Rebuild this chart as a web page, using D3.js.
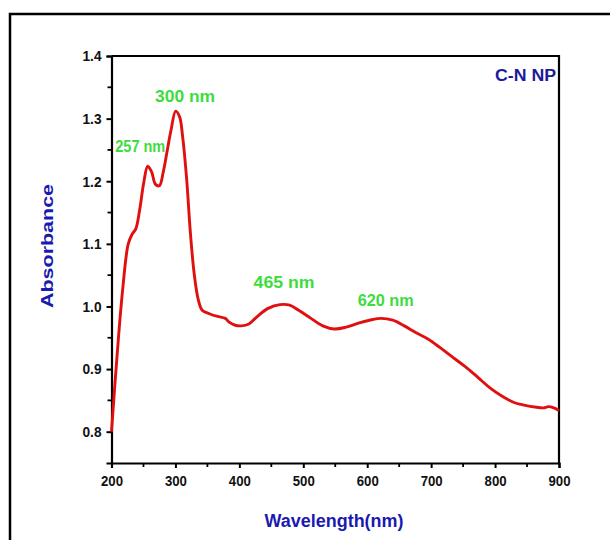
<!DOCTYPE html>
<html>
<head>
<meta charset="utf-8">
<script src="https://cdn.jsdelivr.net/npm/d3@7"></script>
<style>
  html, body { margin: 0; padding: 0; background: #fff; }
  svg { display: block; }
  text { font-family: "Liberation Sans", Arial, sans-serif; font-weight: bold; }
</style>
</head>
<body>
<svg id="chart" width="610" height="540"></svg>
<script>
// Data
const wavelength = [200, 208, 217, 226, 232, 238, 244, 250.5, 256.6, 262.7, 268.8, 275, 281, 287, 293, 300.4, 306.5, 311.4, 317.5, 323.6, 329.7, 335.7, 341.8, 354, 366, 378, 384, 393.6, 402.7, 415, 427, 445, 463.6, 478.8, 494, 512, 530.5, 548.8, 567, 585, 603.6, 621.8, 640, 658, 676.6, 695, 713, 731, 755.7, 774, 792, 810.5, 828.8, 847, 865, 875, 883.6, 892, 900];
const absorbance = [0.800, 0.912, 1.022, 1.099, 1.115, 1.124, 1.154, 1.198, 1.224, 1.215, 1.195, 1.193, 1.215, 1.248, 1.281, 1.312, 1.303, 1.270, 1.204, 1.115, 1.049, 1.011, 0.994, 0.988, 0.984, 0.981, 0.975, 0.970, 0.969, 0.972, 0.983, 0.997, 1.003, 1.002, 0.993, 0.981, 0.969, 0.964, 0.967, 0.973, 0.978, 0.981, 0.978, 0.969, 0.958, 0.948, 0.935, 0.921, 0.902, 0.886, 0.870, 0.857, 0.847, 0.842, 0.839, 0.838, 0.840, 0.838, 0.834];
const xTicks = [200, 300, 400, 500, 600, 700, 800, 900];
const yTicks = [0.8, 0.9, 1.0, 1.1, 1.2, 1.3, 1.4];
const peakLabels = ["257 nm", "300 nm", "465 nm", "620 nm"];
const peakLabelX = [245, 315, 470, 629];
const peakLabelY = [1.247, 1.327, 1.030, 1.001];
const seriesName = "C-N NP";

const svg = d3.select("#chart");
const mLeft = 111.5, mRight = 559, mTop = 56, mBottom = 463;
const x = d3.scaleLinear().domain([200, 900]).range([mLeft, mRight]);
const y = d3.scaleLinear().domain([0.75, 1.4]).range([mBottom, mTop]);

// outer border
svg.append("path")
  .attr("d", `M10,545 L10,14 L615,14`)
  .attr("fill", "none").attr("stroke", "#000").attr("stroke-width", 2.5);

// frame (top and right)
svg.append("path")
  .attr("d", `M${mLeft},${mTop} L${mRight},${mTop} L${mRight},${mBottom}`)
  .attr("fill", "none").attr("stroke", "#000").attr("stroke-width", 2.2);

// x axis
const xMinor = d3.range(250, 900, 100);
const gx = svg.append("g").attr("transform", `translate(0,${mBottom})`);
gx.call(d3.axisBottom(x).tickValues(xTicks).tickSize(5).tickPadding(7).tickFormat(d3.format("d")));
xMinor.forEach(v => {
  gx.append("line").attr("x1", x(v)).attr("x2", x(v)).attr("y1", 0).attr("y2", 4)
    .attr("stroke", "#000").attr("stroke-width", 1.8);
});
gx.select(".domain").attr("stroke-width", 2.2);
gx.selectAll(".tick line").attr("stroke-width", 2);
gx.selectAll(".tick text").attr("font-size", 15).attr("fill", "#111")
  .attr("font-family", "'Liberation Sans', Arial, sans-serif").attr("font-weight", "bold")
  .attr("textLength", 22).attr("lengthAdjust", "spacingAndGlyphs");

// y axis
const yMinor = [0.85, 0.95, 1.05, 1.15, 1.25, 1.35];
const gy = svg.append("g").attr("transform", `translate(${mLeft},0)`);
gy.call(d3.axisLeft(y).tickValues(yTicks).tickSize(5).tickPadding(5).tickFormat(d3.format(".1f")));
yMinor.forEach(v => {
  gy.append("line").attr("x1", 0).attr("x2", -4).attr("y1", y(v)).attr("y2", y(v))
    .attr("stroke", "#000").attr("stroke-width", 1.8);
});
gy.select(".domain").attr("stroke-width", 2.2);
gy.selectAll(".tick line").attr("stroke-width", 2);
gy.selectAll(".tick text").attr("font-size", 15).attr("fill", "#111")
  .attr("font-family", "'Liberation Sans', Arial, sans-serif").attr("font-weight", "bold")
  .attr("textLength", 19).attr("lengthAdjust", "spacingAndGlyphs");

// curve
const pts = wavelength.map((w, i) => [w, absorbance[i]]);
svg.append("path")
  .datum(pts)
  .attr("d", d3.line().x(d => x(d[0])).y(d => y(d[1])).curve(d3.curveCatmullRom.alpha(0.5)))
  .attr("fill", "none").attr("stroke", "#e01010").attr("stroke-width", 2.9)
  .attr("stroke-linejoin", "round");

// peak labels
const labelW = [50, 60, 61, 56];
const labelFs = [16, 17, 17, 16.5];
peakLabels.forEach((t, i) => {
  svg.append("text")
    .attr("x", x(peakLabelX[i])).attr("y", y(peakLabelY[i]))
    .attr("text-anchor", "middle")
    .attr("font-size", labelFs[i]).attr("fill", "#3ddc3d")
    .attr("textLength", labelW[i]).attr("lengthAdjust", "spacingAndGlyphs")
    .text(t);
});

// series name
svg.append("text")
  .attr("x", 556).attr("y", 81).attr("text-anchor", "end")
  .attr("font-size", 16).attr("fill", "#1a1a9a")
  .attr("textLength", 61).attr("lengthAdjust", "spacingAndGlyphs")
  .text(seriesName);

// axis titles
svg.append("text")
  .attr("x", 334).attr("y", 527).attr("text-anchor", "middle")
  .attr("font-size", 18).attr("fill", "#1a1ab0")
  .attr("textLength", 139).attr("lengthAdjust", "spacingAndGlyphs")
  .text("Wavelength(nm)");

svg.append("text")
  .attr("transform", "translate(53,246) rotate(-90)")
  .attr("text-anchor", "middle")
  .attr("font-size", 17).attr("fill", "#1a1ab0")
  .attr("textLength", 124).attr("lengthAdjust", "spacingAndGlyphs")
  .text("Absorbance");
</script>
</body>
</html>
